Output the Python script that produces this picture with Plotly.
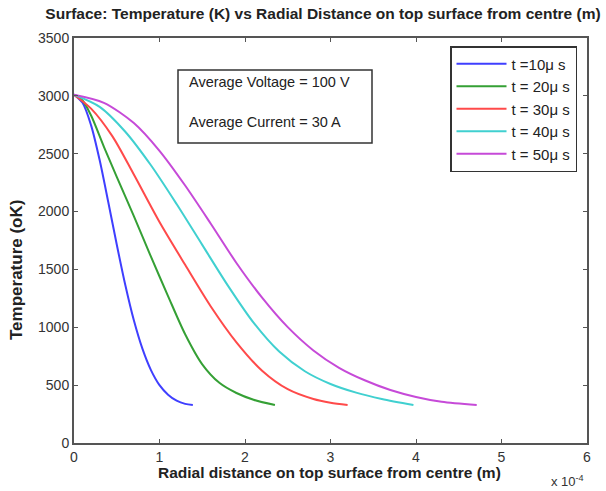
import plotly.graph_objects as go

# Radial distance (x 1e-4 m) and top-surface temperature (K) for each time step
r_10us = [0.0, 0.1, 0.2, 0.3, 0.4, 0.5, 0.6, 0.7, 0.8, 0.9, 1.0, 1.1, 1.2, 1.3, 1.39]
T_10us = [3010, 2940, 2745, 2445, 2085, 1715, 1365, 1060, 815, 630, 500, 418, 366, 338, 328]

r_20us = [0.0, 0.1, 0.2, 0.35, 0.5, 0.7, 0.9, 1.1, 1.3, 1.5, 1.7, 1.9, 2.1, 2.35]
T_20us = [3010, 2960, 2830, 2560, 2300, 1960, 1610, 1270, 940, 680, 520, 432, 374, 328]

r_30us = [0.0, 0.2, 0.45, 0.7, 1.0, 1.3, 1.6, 1.9, 2.2, 2.5, 2.8, 3.0, 3.2]
T_30us = [3010, 2890, 2650, 2320, 1910, 1540, 1180, 870, 625, 465, 380, 348, 328]

r_40us = [0.0, 0.3, 0.6, 0.9, 1.2, 1.5, 1.8, 2.1, 2.4, 2.7, 3.0, 3.3, 3.6, 3.97]
T_40us = [3010, 2905, 2690, 2400, 2065, 1712, 1360, 1040, 790, 620, 510, 435, 380, 328]

r_50us = [0.0, 0.35, 0.7, 1.0, 1.3, 1.6, 1.9, 2.2, 2.5, 2.8, 3.1, 3.4, 3.7, 4.0, 4.3, 4.71]
T_50us = [3010, 2940, 2765, 2525, 2225, 1895, 1556, 1256, 1001, 800, 650, 542, 458, 398, 356, 328]

series_names = ["t =10\u03bc s", "t = 20\u03bc s", "t = 30\u03bc s", "t = 40\u03bc s", "t = 50\u03bc s"]
series_r = [r_10us, r_20us, r_30us, r_40us, r_50us]
series_T = [T_10us, T_20us, T_30us, T_40us, T_50us]
colors = ["#3f3fff", "#35a035", "#ff4a4a", "#40d0d0", "#c64ad8"]

x_ticks = [0, 1, 2, 3, 4, 5, 6]
y_ticks = [0, 500, 1000, 1500, 2000, 2500, 3000, 3500]

FONT = "Liberation Sans"
TEXT = "#222222"

fig = go.Figure()
for name, r, T, c in zip(series_names, series_r, series_T, colors):
    fig.add_trace(go.Scatter(
        x=r, y=T, mode="lines", name=name,
        line=dict(color=c, width=2, shape="spline", smoothing=0.8),
    ))

axis_common = dict(
    showgrid=False, zeroline=False, showline=True, mirror="ticks",
    linecolor="#555555", linewidth=2, ticks="inside", ticklen=4,
    tickcolor="#555555", tickfont=dict(family=FONT, size=14, color="#333333"),
)

# plot area in pixels: x 74..587, y 38..443
L, R, T_, B = 74, 587, 38, 443
W, H = R - L, B - T_


def px(xp):
    return (xp - L) / W


def py(yp):
    return (B - yp) / H


fig.update_layout(
    width=606, height=491,
    margin=dict(l=L, r=606 - R, t=T_, b=491 - B),
    paper_bgcolor="white", plot_bgcolor="white",
    font=dict(family=FONT, color=TEXT),
    title=dict(
        text="<b>Surface: Temperature (K) vs Radial Distance on top surface from centre (m)</b>",
        x=323 / 606, xanchor="center", y=1 - 14 / 491, yanchor="middle",
        font=dict(size=15.5, color=TEXT),
    ),
    xaxis=dict(range=[0, 6], tickvals=x_ticks, ticktext=[str(v) for v in x_ticks], **axis_common),
    yaxis=dict(range=[0, 3500], tickvals=y_ticks, ticktext=[str(v) for v in y_ticks], **axis_common),
    legend=dict(
        x=px(450), y=py(46), xanchor="left", yanchor="top",
        bordercolor="#333333", borderwidth=1.5, bgcolor="white",
        font=dict(family=FONT, size=15, color=TEXT),
        tracegroupgap=0, itemwidth=50,
    ),
    showlegend=True,
)

# Axis labels
fig.add_annotation(xref="paper", yref="paper", x=px(329), y=py(473),
                   xanchor="center", yanchor="middle", showarrow=False,
                   text="<b>Radial distance on top surface from centre (m)</b>",
                   font=dict(size=15.5, color=TEXT))
fig.add_annotation(xref="paper", yref="paper", x=px(16), y=py(270),
                   xanchor="center", yanchor="middle", showarrow=False, textangle=-90,
                   text="<b>Temperature (oK)</b>",
                   font=dict(size=17, color=TEXT))

# Operating-condition box
fig.add_shape(type="rect", xref="paper", yref="paper",
              x0=px(178), x1=px(372), y0=py(143), y1=py(70),
              line=dict(color="#333333", width=1.5), fillcolor="white")
fig.add_annotation(xref="paper", yref="paper", x=px(187), y=py(82),
                   xanchor="left", yanchor="middle", showarrow=False,
                   text="Average Voltage = 100 V", font=dict(size=14.5, color=TEXT))
fig.add_annotation(xref="paper", yref="paper", x=px(187), y=py(122),
                   xanchor="left", yanchor="middle", showarrow=False,
                   text="Average Current = 30 A", font=dict(size=14.5, color=TEXT))

# Axis exponent label
fig.add_annotation(xref="paper", yref="paper", x=px(549), y=py(481),
                   xanchor="left", yanchor="middle", showarrow=False,
                   text="x 10<sup>-4</sup>", font=dict(size=13, color="#333333"))

fig.write_html("out.html")
